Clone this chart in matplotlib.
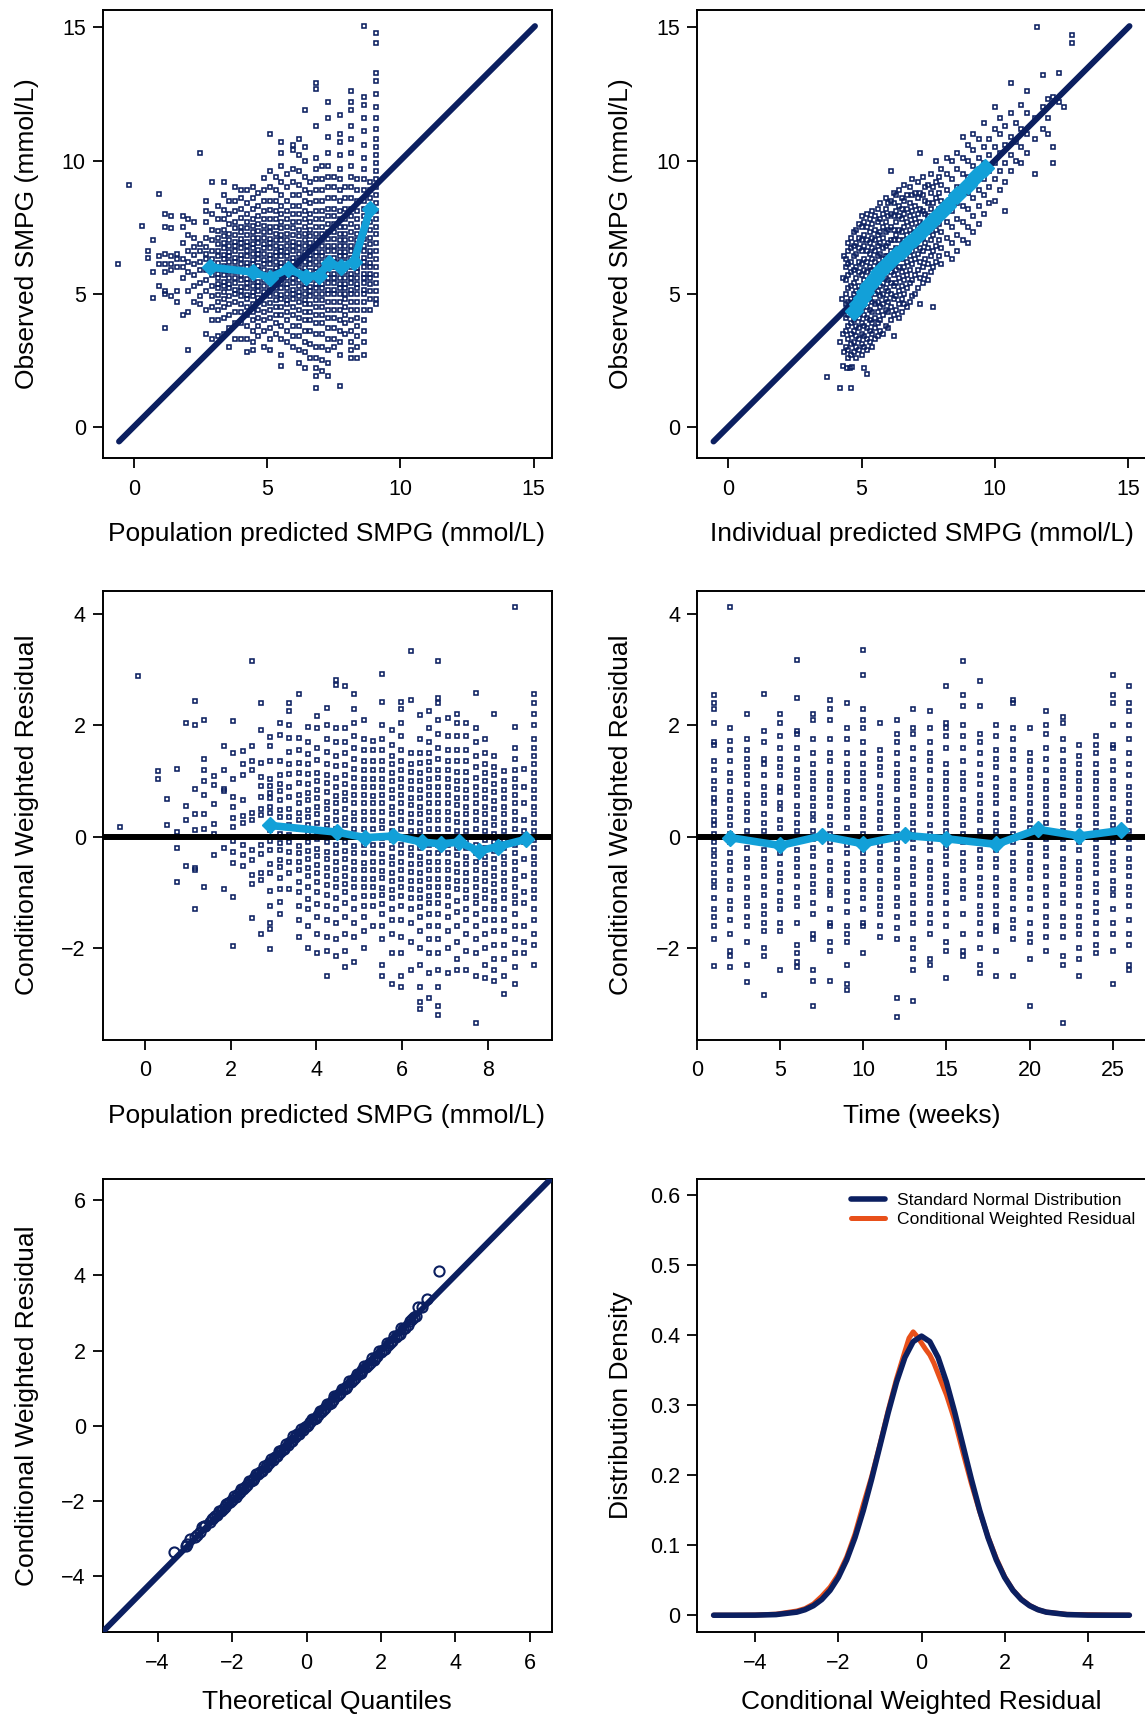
import numpy as np
import matplotlib
matplotlib.use('Agg')
import matplotlib.pyplot as plt
from matplotlib.ticker import FuncFormatter

plt.rcParams['font.family'] = ['Liberation Sans', 'DejaVu Sans']

navy = '#0b1f60'
light_blue = '#12a0d8'
orange = '#e8501a'

# population prediction columns (shared by obs-vs-pred and cwres-vs-pred)
pred_cols = [-0.57, -0.16, 0.3, 0.52, 0.74, 0.96, 1.17, 1.39, 1.61, 1.84, 2.05, 2.28, 2.5, 2.72, 2.93,
             3.15, 3.37, 3.59, 3.8, 4.02, 4.24, 4.46, 4.67, 4.89, 5.11, 5.33, 5.54, 5.76, 5.98, 6.2,
             6.41, 6.63, 6.85, 7.07, 7.28, 7.5, 7.72, 7.93, 8.15, 8.37, 8.64, 8.85, 9.08]

obs_by_pred = [
    [6.1], [9.1], [7.55], [6.6, 6.35], [7.0, 5.8, 4.85], [8.75, 6.4, 6.1, 5.3],
    [8.0, 7.5, 6.5, 6.1, 5.8, 5.1, 5.0, 3.7],
    [7.9, 7.45, 6.4, 6.1, 5.9, 4.9],
    [6.5, 6.3, 6.0, 5.1, 4.7],
    [7.9, 7.5, 6.9, 6.3, 6.0, 5.6, 4.2],
    [7.8, 7.2, 6.6, 6.2, 5.8, 5.1, 4.3, 2.9],
    [7.7, 7.1, 6.75, 6.45, 6.1, 5.7, 5.3, 4.7],
    [10.3, 6.85, 6.6, 6.2, 5.9, 5.4, 4.9, 4.6],
    [8.5, 8.1, 7.7, 7.1, 6.75, 6.5, 6.3, 5.9, 5.5, 5.1, 4.4, 3.5],
    [9.2, 8.0, 7.4, 7.0, 6.6, 6.3, 6.0, 5.7, 5.3, 4.9, 4.5, 4.0, 3.3],
    [8.3, 7.8, 7.35, 7.1, 6.85, 6.6, 6.4, 6.15, 6.0, 5.75, 5.6, 5.35, 5.2, 4.95, 4.7, 4.4, 4.0, 3.4],
    [9.2, 8.7, 8.15, 7.8, 7.4, 7.15, 6.9, 6.7, 6.45, 6.3, 6.05, 5.9, 5.7, 5.45, 5.3, 5.05, 4.8, 4.5, 4.1, 3.5],
    [8.5, 8.0, 7.6, 7.25, 7.0, 6.8, 6.55, 6.4, 6.2, 5.95, 5.8, 5.6, 5.35, 5.2, 4.9, 4.6, 4.2, 3.7, 3.0],
    [9.0, 8.5, 8.1, 7.7, 7.45, 7.2, 6.95, 6.8, 6.6, 6.35, 6.2, 5.95, 5.8, 5.6, 5.4, 5.15, 5.0, 4.7, 4.3, 3.9, 3.3],
    [8.9, 8.6, 8.2, 7.85, 7.5, 7.3, 7.05, 6.9, 6.7, 6.45, 6.3, 6.1, 5.85, 5.7, 5.5, 5.25, 5.1, 4.9, 4.6, 4.3, 3.9, 3.3],
    [8.9, 8.4, 8.0, 7.7, 7.45, 7.2, 6.95, 6.8, 6.6, 6.4, 6.15, 6.0, 5.8, 5.55, 5.4, 5.2, 4.95, 4.8, 4.5, 4.2, 3.8, 3.3, 2.8],
    [9.0, 8.6, 8.2, 7.8, 7.55, 7.3, 7.1, 6.85, 6.7, 6.5, 6.25, 6.1, 5.9, 5.65, 5.5, 5.3, 5.05, 4.9, 4.6, 4.3, 4.0, 3.6, 3.2, 2.9],
    [8.8, 8.3, 7.9, 7.6, 7.35, 7.1, 6.9, 6.65, 6.5, 6.3, 6.05, 5.9, 5.7, 5.45, 5.3, 5.1, 4.85, 4.7, 4.4, 4.1, 3.8, 3.4],
    [9.35, 8.9, 8.5, 8.1, 7.8, 7.55, 7.3, 7.1, 6.85, 6.7, 6.5, 6.25, 6.1, 5.9, 5.65, 5.5, 5.3, 5.05, 4.9, 4.6, 4.3, 4.0, 3.6, 3.0],
    [11.0, 9.6, 9.0, 8.5, 8.15, 7.8, 7.5, 7.3, 7.05, 6.9, 6.7, 6.45, 6.3, 6.1, 5.85, 5.7, 5.5, 5.25, 5.1, 4.9, 4.65, 4.4, 4.1, 3.7, 3.3, 2.9],
    [9.4, 8.9, 8.5, 8.1, 7.8, 7.5, 7.25, 7.0, 6.8, 6.55, 6.4, 6.2, 5.95, 5.8, 5.6, 5.35, 5.2, 5.0, 4.75, 4.5, 4.2, 3.9, 3.5],
    [10.7, 10.3, 9.8, 9.2, 8.7, 8.3, 8.0, 7.7, 7.45, 7.2, 7.0, 6.75, 6.6, 6.4, 6.15, 6.0, 5.8, 5.55, 5.4, 5.2, 4.95, 4.8, 4.5, 4.2, 3.8, 3.3, 2.7, 2.3],
    [9.5, 9.0, 8.5, 8.1, 7.8, 7.5, 7.25, 7.0, 6.8, 6.55, 6.4, 6.2, 5.95, 5.8, 5.6, 5.35, 5.2, 5.0, 4.75, 4.6, 4.3, 4.0, 3.6, 3.2],
    [10.6, 10.4, 9.7, 9.2, 8.7, 8.3, 8.0, 7.7, 7.45, 7.2, 6.95, 6.8, 6.6, 6.35, 6.2, 6.0, 5.75, 5.6, 5.4, 5.15, 5.0, 4.8, 4.5, 4.2, 3.8, 3.4, 3.0],
    [10.8, 10.2, 9.6, 9.1, 8.7, 8.3, 8.0, 7.7, 7.4, 7.15, 6.9, 6.7, 6.5, 6.25, 6.1, 5.9, 5.65, 5.5, 5.3, 5.05, 4.9, 4.7, 4.4, 4.1, 3.8, 3.4, 2.9, 2.4],
    [11.9, 10.5, 10.0, 9.4, 8.9, 8.5, 8.1, 7.8, 7.5, 7.25, 7.0, 6.8, 6.55, 6.4, 6.2, 5.95, 5.8, 5.6, 5.35, 5.2, 5.0, 4.75, 4.6, 4.3, 4.0, 3.6, 3.2, 2.8, 2.2],
    [9.2, 8.8, 8.4, 8.0, 7.7, 7.4, 7.15, 6.9, 6.7, 6.45, 6.3, 6.1, 5.85, 5.7, 5.5, 5.25, 5.1, 4.9, 4.6, 4.3, 4.0, 3.6, 3.1, 2.6],
    [12.9, 12.7, 11.3, 10.1, 9.7, 9.3, 8.9, 8.5, 8.1, 7.8, 7.5, 7.25, 7.0, 6.8, 6.55, 6.4, 6.2, 5.95, 5.8, 5.6,
     5.35, 5.2, 5.0, 4.75, 4.5, 4.2, 3.9, 3.5, 3.0, 2.6, 2.2, 1.9, 1.46],
    [9.8, 9.3, 8.9, 8.5, 8.1, 7.8, 7.5, 7.25, 7.0, 6.8, 6.55, 6.4, 6.2, 5.95, 5.8, 5.6, 5.35, 5.2, 5.0, 4.75, 4.5, 4.2, 3.9, 3.5, 3.0, 2.5, 2.1],
    [12.2, 11.6, 10.9, 10.3, 9.8, 9.4, 9.0, 8.6, 8.2, 7.9, 7.6, 7.3, 7.05, 6.8, 6.6, 6.35, 6.2, 6.0, 5.75, 5.6,
     5.4, 5.15, 5.0, 4.7, 4.4, 4.1, 3.7, 3.3, 2.9, 2.4, 1.9],
    [9.4, 9.0, 8.6, 8.2, 7.9, 7.6, 7.3, 7.05, 6.8, 6.6, 6.35, 6.2, 6.0, 5.75, 5.6, 5.4, 5.15, 5.0, 4.7, 4.4, 4.1, 3.7, 3.3, 3.0],
    [11.7, 11.0, 10.7, 10.2, 9.7, 9.3, 8.9, 8.5, 8.1, 7.8, 7.5, 7.25, 7.0, 6.8, 6.55, 6.4, 6.2, 5.95, 5.8, 5.6,
     5.35, 5.2, 5.0, 4.7, 4.4, 4.0, 3.6, 3.2, 2.7, 1.52],
    [9.0, 8.6, 8.2, 7.8, 7.5, 7.25, 7.0, 6.8, 6.55, 6.4, 6.2, 5.95, 5.8, 5.6, 5.35, 5.2, 5.0, 4.8, 4.5, 4.2, 3.9, 3.5],
    [12.6, 12.2, 11.9, 11.3, 10.8, 10.3, 9.8, 9.4, 9.0, 8.6, 8.2, 7.9, 7.6, 7.3, 7.05, 6.8, 6.6, 6.35, 6.2, 6.0,
     5.75, 5.6, 5.4, 5.15, 5.0, 4.7, 4.4, 4.0, 3.6, 3.2, 2.9, 2.6],
    [9.3, 8.9, 8.5, 8.1, 7.8, 7.5, 7.25, 7.0, 6.8, 6.55, 6.4, 6.2, 5.95, 5.8, 5.6, 5.35, 5.2, 5.0, 4.7, 4.4, 4.1, 3.8, 3.4, 3.0, 2.6],
    [15.05, 12.4, 12.1, 11.6, 11.1, 10.6, 10.1, 9.7, 9.3, 8.9, 8.5, 8.2, 7.9, 7.6, 7.3, 7.05, 6.8, 6.6, 6.35, 6.2,
     6.0, 5.75, 5.6, 5.4, 5.15, 5.0, 4.7, 4.4, 4.0, 3.6, 3.2, 2.7],
    [9.2, 8.9, 8.6, 8.3, 8.0, 7.7, 7.4, 7.1, 6.85, 6.6, 6.4, 6.15, 6.0, 5.75, 5.6, 5.35, 5.1, 4.8, 4.4],
    [14.8, 14.4, 13.3, 13.0, 12.5, 12.0, 11.6, 11.2, 10.8, 10.5, 10.2, 9.9, 9.6, 9.3, 9.0, 8.7, 8.4, 8.1, 7.8, 7.5,
     7.25, 6.9, 6.6, 6.3, 6.0, 5.7, 5.4, 5.1, 4.8, 4.6],
]

cwres_by_pred = [
    [0.17], [2.89], [1.18, 1.03], [0.68, 0.2], [1.22, 0.09, -0.21, -0.81], [2.05, 0.55, 0.3, -0.53],
    [2.44, 2.0, 0.86, 0.4, 0.11, -0.56, -0.6, -1.31],
    [2.09, 1.4, 1.2, 1.0, 0.75, 0.4, 0.14, -0.9],
    [1.09, 0.93, 0.59, 0.22, 0.05, -0.34],
    [1.63, 1.2, 0.85, 0.82, -0.2, -0.94],
    [2.07, 1.5, 1.04, 0.72, 0.53, 0.33, 0.17, -0.08, -0.28, -0.47, -1.08, -1.96],
    [1.54, 1.3, 1.1, 0.66, 0.37, 0.24, -0.15, -0.34, -0.53],
    [3.16, 1.63, 1.36, 1.19, 0.43, 0.3, -0.24, -0.42, -0.69, -0.86, -1.47],
    [2.4, 1.92, 1.33, 1.07, 0.91, 0.72, 0.5, 0.38, -0.15, -0.31, -0.65, -0.78, -1.76],
    [1.79, 1.62, 1.36, 1.04, 0.91, 0.78, 0.69, 0.53, 0.43, 0.11, -0.08, -0.24, -0.5, -0.66, -0.98, -1.24, -1.55, -1.66, -2.03],
    [2.05, 1.83, 1.36, 1.1, 0.95, 0.82, 0.66, 0.48, 0.35, 0.18, 0.05, -0.12, -0.25, -0.42, -0.55, -0.75, -0.95, -1.18, -1.4],
    [2.41, 2.26, 2.0, 1.78, 1.52, 1.3, 1.12, 0.9, 0.72, 0.5, 0.36, 0.2, 0.03, -0.1, -0.27, -0.45, -0.65, -0.95],
    [2.57, 1.78, 1.55, 1.33, 1.15, 0.97, 0.75, 0.6, 0.43, 0.3, 0.14, 0.0, -0.17, -0.3, -0.46, -0.6, -0.82, -1.0, -1.25, -1.5, -1.8],
    [1.97, 1.7, 1.48, 1.3, 1.12, 0.95, 0.78, 0.65, 0.48, 0.35, 0.2, 0.04, -0.1, -0.26, -0.4, -0.57, -0.7, -0.9, -1.12, -1.3, -1.6, -2.0],
    [2.17, 1.95, 1.6, 1.37, 1.15, 1.0, 0.83, 0.7, 0.53, 0.4, 0.25, 0.08, -0.05, -0.22, -0.35, -0.52, -0.65, -0.82, -1.0, -1.22, -1.45, -1.75, -2.1],
    [2.31, 2.0, 1.75, 1.52, 1.3, 1.1, 0.96, 0.8, 0.63, 0.5, 0.33, 0.2, 0.04, -0.1, -0.27, -0.4, -0.56, -0.7, -0.87, -1.05,
     -1.25, -1.5, -1.8, -2.05, -2.5],
    [2.82, 2.73, 1.95, 1.7, 1.45, 1.27, 1.05, 0.9, 0.73, 0.6, 0.44, 0.3, 0.13, 0.0, -0.16, -0.3, -0.46, -0.6, -0.77, -0.9,
     -1.1, -1.3, -1.55, -1.85, -2.15],
    [2.71, 1.95, 1.7, 1.5, 1.28, 1.1, 0.95, 0.78, 0.65, 0.5, 0.33, 0.2, 0.04, -0.1, -0.26, -0.4, -0.57, -0.7, -0.86, -1.0,
     -1.2, -1.45, -1.75, -2.05, -2.34],
    [2.57, 2.3, 2.05, 1.8, 1.6, 1.4, 1.22, 1.05, 0.9, 0.74, 0.6, 0.43, 0.3, 0.14, 0.0, -0.17, -0.3, -0.46, -0.6, -0.76,
     -0.9, -1.1, -1.3, -1.55, -1.8, -2.25],
    [2.1, 1.75, 1.55, 1.36, 1.2, 1.03, 0.9, 0.74, 0.6, 0.44, 0.3, 0.13, 0.0, -0.16, -0.3, -0.47, -0.6, -0.76, -0.9, -1.07,
     -1.25, -1.45, -1.7, -2.0],
    [1.72, 1.55, 1.35, 1.2, 1.03, 0.9, 0.73, 0.6, 0.44, 0.3, 0.13, 0.0, -0.16, -0.3, -0.46, -0.6, -0.77, -0.9, -1.06, -1.25, -1.6],
    [2.93, 2.42, 2.0, 1.75, 1.55, 1.36, 1.2, 1.04, 0.9, 0.74, 0.6, 0.45, 0.28, 0.15, -0.02, -0.15, -0.32, -0.45, -0.62, -0.75,
     -0.92, -1.05, -1.22, -1.4, -1.6, -1.85, -2.3, -2.5],
    [1.91, 1.65, 1.45, 1.3, 1.14, 1.0, 0.84, 0.7, 0.54, 0.4, 0.24, 0.1, -0.06, -0.2, -0.36, -0.5, -0.66, -0.8, -0.96, -1.1,
     -1.3, -1.5, -1.75, -2.1, -2.65],
    [2.42, 2.3, 2.05, 1.8, 1.55, 1.36, 1.2, 1.04, 0.9, 0.74, 0.6, 0.44, 0.3, 0.14, 0.0, -0.16, -0.3, -0.46, -0.6, -0.76,
     -0.9, -1.06, -1.25, -1.5, -1.8, -2.1, -2.5, -2.7],
    [3.34, 2.45, 1.5, 1.3, 1.16, 1.0, 0.86, 0.7, 0.56, 0.4, 0.26, 0.1, -0.04, -0.2, -0.34, -0.5, -0.64, -0.8, -0.94, -1.1,
     -1.3, -1.55, -1.9, -2.4],
    [2.18, 1.75, 1.5, 1.32, 1.15, 1.0, 0.84, 0.7, 0.54, 0.4, 0.24, 0.1, -0.06, -0.2, -0.36, -0.5, -0.66, -0.8, -0.96, -1.1,
     -1.26, -1.45, -1.7, -2.0, -2.3, -2.7, -2.97, -3.1],
    [2.25, 1.95, 1.7, 1.5, 1.34, 1.2, 1.04, 0.9, 0.74, 0.6, 0.44, 0.3, 0.14, 0.0, -0.16, -0.3, -0.46, -0.6, -0.76, -0.9,
     -1.06, -1.2, -1.4, -1.6, -1.85, -2.1, -2.45, -2.9],
    [3.16, 2.5, 2.4, 2.1, 1.85, 1.6, 1.4, 1.2, 1.05, 0.9, 0.74, 0.6, 0.45, 0.3, 0.14, 0.0, -0.16, -0.3, -0.45, -0.6,
     -0.76, -0.9, -1.05, -1.2, -1.4, -1.6, -1.85, -2.1, -2.4, -2.7, -3.05, -3.2],
    [2.13, 1.8, 1.55, 1.36, 1.2, 1.04, 0.9, 0.74, 0.6, 0.44, 0.3, 0.14, 0.0, -0.16, -0.3, -0.46, -0.6, -0.76, -0.9, -1.06,
     -1.25, -1.45, -1.7, -2.0, -2.45],
    [2.2, 2.05, 1.8, 1.55, 1.35, 1.16, 1.0, 0.86, 0.7, 0.56, 0.4, 0.26, 0.1, -0.04, -0.2, -0.34, -0.5, -0.64, -0.8, -0.94,
     -1.15, -1.35, -1.6, -1.9, -2.2, -2.4],
    [2.05, 1.8, 1.55, 1.35, 1.16, 1.0, 0.84, 0.7, 0.54, 0.4, 0.24, 0.1, -0.06, -0.2, -0.36, -0.5, -0.66, -0.8, -0.96, -1.1,
     -1.3, -1.5, -1.75, -2.05, -2.4],
    [2.58, 1.95, 1.7, 1.45, 1.25, 1.06, 0.9, 0.74, 0.6, 0.44, 0.3, 0.14, 0.0, -0.16, -0.3, -0.46, -0.6, -0.76, -0.9, -1.06,
     -1.2, -1.4, -1.6, -1.85, -2.1, -2.5, -3.35],
    [1.75, 1.5, 1.3, 1.15, 1.0, 0.84, 0.7, 0.54, 0.4, 0.24, 0.1, -0.06, -0.2, -0.36, -0.5, -0.66, -0.8, -0.96, -1.1, -1.3,
     -1.5, -1.75, -2.0, -2.3, -2.55],
    [2.2, 1.45, 1.25, 1.1, 0.94, 0.8, 0.64, 0.5, 0.34, 0.2, 0.04, -0.1, -0.26, -0.4, -0.56, -0.7, -0.86, -1.0, -1.16, -1.3,
     -1.5, -1.7, -1.95, -2.2, -2.4, -2.6],
    [1.18, 1.0, 0.84, 0.7, 0.54, 0.4, 0.24, 0.1, -0.06, -0.2, -0.36, -0.5, -0.66, -0.8, -0.96, -1.1, -1.3, -1.5, -1.7, -1.95,
     -2.2, -2.5, -2.83],
    [4.12, 1.97, 1.6, 1.4, 1.2, 1.04, 0.9, 0.74, 0.6, 0.44, 0.3, 0.14, 0.0, -0.16, -0.3, -0.46, -0.6, -0.76, -0.9, -1.06,
     -1.2, -1.4, -1.6, -1.85, -2.1, -2.35, -2.65],
    [1.22, 0.9, 0.6, 0.3, 0.1, -0.1, -0.4, -0.7, -1.0, -1.2, -1.6, -1.9, -2.1],
    [2.56, 2.4, 2.2, 2.0, 1.75, 1.6, 1.45, 1.3, 1.14, 1.0, 0.84, 0.7, 0.54, 0.4, 0.24, 0.1, -0.06, -0.2, -0.36, -0.5,
     -0.66, -0.8, -0.96, -1.1, -1.3, -1.5, -1.75, -1.95, -2.3],
]

# smoothed trend points
pred_trend_x = [2.87, 4.47, 5.12, 5.8, 6.46, 6.94, 7.31, 7.79, 8.26, 8.88]
pred_trend_obs = [6.0, 5.81, 5.6, 5.94, 5.64, 5.68, 6.14, 6.0, 6.2, 8.2]
pred_trend_cwres_x = [2.92, 4.48, 5.14, 5.8, 6.47, 6.91, 7.34, 7.79, 8.23, 8.89]
pred_trend_cwres = [0.2, 0.08, -0.02, 0.01, -0.1, -0.13, -0.1, -0.26, -0.18, -0.05]

# individual prediction vs observed cloud
ipred_x = ([3.7, 4.2, 4.62, 4.3, 4.45, 4.55, 4.65, 5.1, 5.2, 4.3, 4.2, 4.35, 4.5, 4.25, 4.3, 4.35]
           + [4.4] * 8 + [4.5] * 10 + [4.6] * 11 + [4.7] * 11 + [4.8] * 12 + [4.9] * 12 + [5.0] * 13
           + [5.1] * 12 + [5.2] * 13 + [5.3] * 12 + [5.4] * 13 + [5.5] * 12 + [5.6] * 12 + [5.7] * 12
           + [5.8] * 11 + [5.9] * 12 + [6.0] * 11 + [6.1] * 12 + [6.2] * 12 + [6.3] * 10 + [6.4] * 11
           + [6.5] * 10 + [6.6] * 10 + [6.7] * 9 + [6.8] * 9 + [6.9] * 9 + [7.0] * 8 + [7.1] * 8
           + [7.2] * 9 + [7.3] * 8 + [7.4] * 7 + [7.5] * 7 + [7.6] * 7 + [7.7] * 7 + [7.8] * 7 + [7.9] * 6
           + [8.0] * 7 + [8.2] * 7 + [8.4] * 7 + [8.6] * 7 + [8.8] * 7 + [9.0] * 7 + [9.2] * 7 + [9.4] * 6
           + [9.6] * 6 + [9.8] * 5 + [10.0] * 6 + [10.2] * 5 + [10.4] * 5 + [10.6] * 5 + [10.8] * 3
           + [11.0] * 4 + [11.2] * 4 + [11.5] * 3 + [11.6] + [11.8] * 3 + [12.0] * 3 + [12.2] * 3
           + [12.4] * 2 + [12.6] + [12.9] * 2)
ipred_obs = ([1.88, 1.45, 1.45, 2.3, 2.2, 2.2, 2.25, 2.2, 2.0, 3.5, 3.2, 2.8, 2.6, 4.8, 5.6, 6.4]
             + [3.0, 3.6, 4.1, 4.6, 5.0, 5.5, 6.0, 6.3]
             + [2.9, 3.3, 3.8, 4.2, 4.7, 5.2, 5.7, 6.1, 6.6, 6.9]
             + [2.7, 3.1, 3.5, 3.9, 4.3, 4.8, 5.3, 5.8, 6.2, 6.7, 7.1]
             + [2.8, 3.2, 3.6, 4.0, 4.5, 5.0, 5.4, 5.9, 6.4, 6.8, 7.3]
             + [2.6, 3.0, 3.4, 3.8, 4.2, 4.6, 5.1, 5.6, 6.0, 6.5, 6.9, 7.4]
             + [2.9, 3.3, 3.7, 4.1, 4.5, 4.9, 5.3, 5.8, 6.2, 6.7, 7.1, 7.6]
             + [2.7, 3.1, 3.5, 3.9, 4.4, 4.8, 5.2, 5.7, 6.1, 6.6, 7.0, 7.5, 7.9]
             + [3.0, 3.4, 3.8, 4.2, 4.6, 5.0, 5.5, 5.9, 6.3, 6.8, 7.2, 7.7]
             + [2.9, 3.3, 3.7, 4.1, 4.5, 4.9, 5.3, 5.8, 6.2, 6.6, 7.0, 7.5, 8.0]
             + [3.2, 3.6, 4.0, 4.4, 4.8, 5.2, 5.6, 6.0, 6.5, 6.9, 7.3, 7.8]
             + [3.0, 3.5, 3.9, 4.3, 4.7, 5.1, 5.5, 5.9, 6.3, 6.7, 7.1, 7.6, 8.1]
             + [3.3, 3.7, 4.1, 4.6, 5.0, 5.4, 5.8, 6.2, 6.6, 7.0, 7.4, 7.9]
             + [3.4, 3.9, 4.3, 4.7, 5.1, 5.6, 6.0, 6.4, 6.8, 7.2, 7.7, 8.2]
             + [3.6, 4.0, 4.5, 4.9, 5.3, 5.7, 6.1, 6.5, 6.9, 7.3, 7.8, 8.4]
             + [3.5, 4.2, 4.6, 5.0, 5.4, 5.9, 6.3, 6.7, 7.1, 7.5, 8.0]
             + [3.8, 4.4, 4.8, 5.2, 5.6, 6.0, 6.4, 6.8, 7.3, 7.7, 8.2, 8.6]
             + [3.7, 4.3, 4.7, 5.1, 5.5, 6.0, 6.4, 6.9, 7.4, 7.9, 8.4]
             + [4.0, 4.5, 5.0, 5.4, 5.8, 6.2, 6.6, 7.0, 7.5, 8.0, 8.5, 9.6]
             + [3.4, 4.2, 4.8, 5.3, 5.7, 6.1, 6.5, 7.0, 7.4, 7.9, 8.4, 8.8]
             + [4.4, 4.9, 5.4, 5.9, 6.3, 6.7, 7.2, 7.7, 8.1, 8.7]
             + [4.1, 4.6, 5.1, 5.6, 6.0, 6.5, 7.0, 7.4, 7.9, 8.3, 8.9]
             + [4.3, 4.8, 5.3, 5.8, 6.3, 6.8, 7.3, 7.8, 8.2, 8.6]
             + [4.6, 5.0, 5.5, 6.0, 6.5, 7.0, 7.5, 8.0, 8.5, 9.1]
             + [4.5, 5.2, 5.7, 6.2, 6.7, 7.2, 7.7, 8.2, 8.7]
             + [4.7, 5.4, 5.9, 6.4, 6.9, 7.4, 7.9, 8.4, 9.0]
             + [4.9, 5.5, 6.1, 6.6, 7.1, 7.6, 8.1, 8.7, 9.3]
             + [5.0, 5.7, 6.3, 6.8, 7.3, 7.8, 8.3, 8.8]
             + [5.2, 5.9, 6.5, 7.0, 7.5, 8.0, 8.6, 9.2]
             + [4.6, 5.6, 6.2, 6.7, 7.2, 7.7, 8.2, 8.8, 10.3]
             + [5.4, 6.0, 6.6, 7.1, 7.6, 8.1, 8.7, 9.4]
             + [5.7, 6.3, 6.9, 7.5, 8.0, 8.5, 9.0]
             + [5.5, 6.1, 6.7, 7.3, 7.9, 8.4, 9.1]
             + [5.8, 6.4, 7.0, 7.6, 8.2, 8.8, 9.5]
             + [4.5, 6.0, 6.6, 7.2, 7.8, 8.4, 9.0]
             + [6.2, 6.8, 7.4, 8.0, 8.6, 9.2, 10.0]
             + [6.4, 7.0, 7.6, 8.2, 8.8, 9.4]
             + [6.1, 6.7, 7.3, 7.9, 8.5, 9.1, 9.7]
             + [6.5, 7.1, 7.7, 8.3, 8.9, 9.5, 10.1]
             + [6.3, 6.9, 7.5, 8.1, 8.7, 9.3, 10.0]
             + [6.6, 7.2, 7.8, 8.4, 9.0, 9.7, 10.3]
             + [7.0, 7.7, 8.3, 8.9, 9.5, 10.1, 10.9]
             + [6.9, 7.5, 8.2, 8.8, 9.4, 10.0, 10.6]
             + [7.3, 7.9, 8.6, 9.2, 9.8, 10.4, 11.0]
             + [7.6, 8.3, 8.9, 9.5, 10.1, 10.8]
             + [8.0, 8.7, 9.3, 9.9, 10.5, 11.4]
             + [8.4, 9.0, 9.6, 10.2, 10.8]
             + [8.5, 9.3, 9.9, 10.5, 11.2, 12.0]
             + [8.9, 9.6, 10.3, 11.0, 11.6]
             + [8.1, 9.2, 9.9, 10.6, 11.3]
             + [9.6, 10.2, 10.9, 11.8, 12.9]
             + [10.0, 10.7, 11.4]
             + [9.9, 10.5, 11.2, 12.1]
             + [10.3, 11.0, 11.8, 12.6]
             + [9.5, 10.8, 11.6]
             + [15.0]
             + [11.2, 12.0, 13.2]
             + [11.0, 11.6, 12.3]
             + [9.9, 10.5, 12.4]
             + [13.3, 12.2]
             + [12.0]
             + [14.4, 14.7])
ipred_trend_x = [4.72, 4.85, 5.0, 5.12, 5.25, 5.38, 5.5, 5.65, 5.8, 5.95, 6.1, 6.3, 6.5, 6.75, 7.0, 7.3, 7.6,
                 7.87, 8.2, 8.6, 9.0, 9.35, 9.64]
ipred_trend_obs = [4.35, 4.6, 4.85, 5.05, 5.3, 5.45, 5.6, 5.8, 5.95, 6.1, 6.25, 6.45, 6.6, 6.85, 7.1, 7.4, 7.7,
                   7.96, 8.3, 8.7, 9.1, 9.45, 9.73]

identity_range = [-0.55, 15.05]

# residuals by week
weeks = list(range(1, 27))
cwres_by_week = [
    [2.55, 2.4, 2.3, 2.05, 1.7, 1.65, 1.35, 1.2, 1.0, 0.85, 0.7, 0.6, 0.45, 0.3, 0.2, 0.05, -0.1, -0.25, -0.35, -0.5, -0.65, -0.8, -0.9, -1.1, -1.3, -1.45, -1.6, -1.85, -2.33],
    [4.13, 1.95, 1.72, 1.55, 1.35, 1.15, 1.0, 0.8, 0.65, 0.5, 0.35, 0.2, 0.05, -0.1, -0.3, -0.45, -0.6, -0.8, -0.95, -1.15, -1.3, -1.5, -1.75, -2.05, -2.15, -2.35],
    [2.2, 1.75, 1.55, 1.4, 1.25, 1.1, 0.95, 0.75, 0.6, 0.45, 0.3, 0.1, -0.05, -0.2, -0.4, -0.55, -0.75, -0.9, -1.1, -1.25, -1.45, -1.6, -1.9, -2.3, -2.62],
    [2.57, 1.9, 1.7, 1.4, 1.3, 1.1, 0.9, 0.75, 0.6, 0.4, 0.25, 0.1, -0.05, -0.25, -0.4, -0.55, -0.7, -0.9, -1.05, -1.25, -1.4, -1.55, -1.7, -2.0, -2.15, -2.85],
    [2.2, 2.05, 1.8, 1.6, 1.4, 1.25, 1.1, 0.9, 0.8, 0.6, 0.5, 0.3, 0.15, 0.0, -0.15, -0.3, -0.5, -0.65, -0.8, -1.0, -1.15, -1.3, -1.55, -1.7, -2.4],
    [3.17, 2.5, 1.9, 1.85, 1.6, 1.4, 1.2, 1.05, 0.9, 0.75, 0.55, 0.4, 0.25, 0.1, -0.05, -0.25, -0.4, -0.55, -0.7, -0.9, -1.1, -1.25, -1.55, -1.95, -2.1, -2.25, -2.35],
    [2.2, 2.1, 1.75, 1.5, 1.3, 1.15, 1.0, 0.85, 0.7, 0.55, 0.4, 0.3, 0.1, -0.05, -0.2, -0.35, -0.55, -0.7, -0.85, -1.0, -1.2, -1.4, -1.75, -1.85, -2.4, -2.6, -3.05],
    [2.45, 2.3, 2.1, 1.75, 1.5, 1.35, 1.15, 1.0, 0.85, 0.7, 0.55, 0.35, 0.2, 0.05, -0.1, -0.25, -0.45, -0.6, -0.8, -0.95, -1.05, -1.3, -1.55, -1.6, -1.9, -2.05, -2.6],
    [2.4, 1.95, 1.75, 1.5, 1.3, 1.15, 1.0, 0.8, 0.65, 0.5, 0.35, 0.15, 0.0, -0.15, -0.3, -0.5, -0.65, -0.8, -1.0, -1.15, -1.35, -1.6, -1.75, -1.9, -2.3, -2.65, -2.75],
    [3.35, 2.9, 2.3, 2.1, 1.95, 1.7, 1.5, 1.3, 1.15, 1.0, 0.85, 0.7, 0.5, 0.35, 0.2, 0.05, -0.1, -0.3, -0.45, -0.6, -0.8, -0.95, -1.1, -1.3, -1.55, -1.6, -2.1],
    [2.05, 1.55, 1.4, 1.25, 1.1, 0.9, 0.75, 0.6, 0.45, 0.3, 0.15, 0.0, -0.15, -0.3, -0.45, -0.6, -0.8, -0.95, -1.1, -1.25, -1.4, -1.6, -1.8],
    [2.1, 1.85, 1.7, 1.5, 1.3, 1.15, 1.0, 0.85, 0.65, 0.5, 0.35, 0.2, 0.05, -0.1, -0.25, -0.4, -0.6, -0.75, -0.9, -1.1, -1.25, -1.45, -1.65, -1.85, -2.9, -3.25],
    [2.3, 1.95, 1.85, 1.6, 1.4, 1.2, 1.05, 0.9, 0.75, 0.55, 0.4, 0.25, 0.1, -0.05, -0.2, -0.4, -0.55, -0.7, -0.85, -1.05, -1.2, -1.4, -1.55, -1.85, -2.0, -2.2, -2.4, -2.95],
    [2.25, 1.95, 1.7, 1.5, 1.35, 1.2, 1.0, 0.85, 0.7, 0.55, 0.4, 0.2, 0.05, -0.1, -0.25, -0.45, -0.6, -0.75, -0.9, -1.05, -1.2, -1.4, -1.55, -1.75, -2.2, -2.3],
    [2.7, 2.05, 1.95, 1.8, 1.6, 1.3, 1.15, 1.0, 0.85, 0.7, 0.55, 0.4, 0.25, 0.1, -0.05, -0.2, -0.35, -0.5, -0.7, -0.85, -1.0, -1.2, -1.4, -1.6, -1.9, -2.05, -2.55],
    [3.15, 2.55, 2.35, 2.0, 1.8, 1.6, 1.35, 1.15, 1.0, 0.85, 0.65, 0.5, 0.35, 0.2, 0.05, -0.1, -0.3, -0.45, -0.6, -0.8, -0.95, -1.1, -1.4, -1.75, -2.05, -2.15],
    [2.8, 2.35, 1.85, 1.7, 1.5, 1.3, 1.1, 0.95, 0.75, 0.6, 0.45, 0.3, 0.1, -0.05, -0.25, -0.4, -0.55, -0.75, -0.9, -1.05, -1.25, -1.4, -1.55, -1.75, -2.0, -2.3, -2.45],
    [2.0, 1.8, 1.55, 1.4, 1.25, 1.05, 0.9, 0.75, 0.6, 0.4, 0.25, 0.1, -0.05, -0.25, -0.4, -0.55, -0.75, -0.9, -1.05, -1.25, -1.4, -1.6, -1.7, -2.05, -2.5],
    [2.45, 2.4, 1.95, 1.75, 1.55, 1.4, 1.2, 1.0, 0.85, 0.7, 0.5, 0.35, 0.2, 0.05, -0.1, -0.3, -0.45, -0.6, -0.8, -0.95, -1.1, -1.3, -1.5, -1.65, -1.85, -2.5],
    [1.95, 1.5, 1.35, 1.2, 1.05, 0.9, 0.75, 0.6, 0.45, 0.3, 0.15, 0.0, -0.15, -0.3, -0.45, -0.6, -0.75, -0.95, -1.1, -1.3, -1.55, -1.75, -1.9, -2.2, -3.05],
    [2.25, 2.0, 1.85, 1.6, 1.4, 1.2, 1.0, 0.85, 0.7, 0.55, 0.4, 0.25, 0.1, -0.05, -0.2, -0.35, -0.55, -0.7, -0.9, -1.05, -1.25, -1.45, -1.6, -1.8, -2.05],
    [2.15, 2.05, 1.75, 1.55, 1.35, 1.2, 1.05, 0.9, 0.75, 0.55, 0.4, 0.25, 0.1, -0.05, -0.2, -0.4, -0.55, -0.7, -0.85, -1.05, -1.2, -1.45, -1.6, -1.8, -2.15, -2.3, -3.36],
    [1.65, 1.45, 1.3, 1.15, 1.0, 0.85, 0.7, 0.55, 0.35, 0.2, 0.05, -0.1, -0.25, -0.45, -0.6, -0.75, -0.9, -1.05, -1.25, -1.45, -1.6, -1.75, -2.0, -2.2, -2.5],
    [1.8, 1.65, 1.5, 1.3, 1.15, 1.0, 0.85, 0.7, 0.55, 0.4, 0.25, 0.1, -0.05, -0.2, -0.35, -0.5, -0.65, -0.85, -1.0, -1.2, -1.35, -1.55, -1.75, -1.95, -2.1],
    [2.9, 2.55, 2.4, 2.0, 1.65, 1.6, 1.35, 1.2, 1.0, 0.85, 0.7, 0.5, 0.35, 0.2, 0.05, -0.1, -0.3, -0.45, -0.6, -0.8, -0.95, -1.05, -1.3, -1.55, -1.75, -2.05, -2.65],
    [2.7, 2.4, 2.25, 2.0, 1.75, 1.5, 1.3, 1.1, 0.9, 0.75, 0.6, 0.45, 0.3, 0.1, -0.05, -0.2, -0.4, -0.55, -0.7, -0.9, -1.05, -1.25, -1.5, -1.75, -1.95, -2.3, -2.4],
]
week_trend_x = [2.0, 5.0, 7.5, 10.0, 12.5, 15.0, 18.0, 20.5, 23.0, 25.5]
week_trend_cwres = [-0.02, -0.16, 0.01, -0.13, 0.02, -0.04, -0.14, 0.13, 0.01, 0.11]

# QQ plot of residuals
qq_theo = [-3.56, -3.25, -3.2, -3.12, -3.0, -2.93, -2.87, -2.8, -2.76, -2.72,
           -2.6, -2.5, -2.4, -2.3, -2.2, -2.1, -2.0, -1.9, -1.8, -1.7, -1.6, -1.5, -1.4, -1.3, -1.2, -1.1,
           -1.0, -0.9, -0.8, -0.7, -0.6, -0.5, -0.4, -0.3, -0.2, -0.1, 0.0, 0.1, 0.2, 0.3, 0.4, 0.5, 0.6,
           0.7, 0.8, 0.9, 1.0, 1.1, 1.2, 1.3, 1.4, 1.5, 1.6, 1.7, 1.8, 1.9, 2.0, 2.1, 2.2, 2.3, 2.4, 2.5,
           2.6, 2.65, 2.72, 2.78, 2.83, 2.88, 2.95, 3.0, 3.11, 3.24, 3.565]
qq_cwres = [-3.36, -3.19, -3.14, -3.02, -2.95, -2.9, -2.83, -2.7, -2.65, -2.66,
            -2.56, -2.45, -2.36, -2.27, -2.16, -2.06, -1.97, -1.88, -1.77, -1.68, -1.58, -1.48, -1.38, -1.29, -1.19, -1.09,
            -0.99, -0.9, -0.8, -0.7, -0.61, -0.51, -0.41, -0.31, -0.21, -0.11, -0.01, 0.09, 0.18, 0.28, 0.38, 0.48, 0.58,
            0.68, 0.78, 0.87, 0.97, 1.07, 1.17, 1.27, 1.37, 1.47, 1.56, 1.66, 1.76, 1.86, 1.95, 2.05, 2.15, 2.25, 2.35, 2.45,
            2.56, 2.6, 2.68, 2.78, 2.85, 2.9, 2.92, 3.15, 3.17, 3.36, 4.12]
qq_theo_mid = [-2.55, -2.45, -2.35, -2.25, -2.15, -2.05, -1.95, -1.85, -1.75, -1.65, -1.55, -1.45, -1.35,
               -1.25, -1.15, -1.05, -0.95, -0.85, -0.75, -0.65, -0.55, -0.45, -0.35, -0.25, -0.15, -0.05,
               0.05, 0.15, 0.25, 0.35, 0.45, 0.55, 0.65, 0.75, 0.85, 0.95, 1.05, 1.15, 1.25, 1.35, 1.45,
               1.55, 1.65, 1.75, 1.85, 1.95, 2.05, 2.15, 2.25, 2.35, 2.45, 2.55]
qq_cwres_mid = [-2.47, -2.41, -2.27, -2.22, -2.07, -2.02, -1.87, -1.82, -1.67, -1.63, -1.47, -1.43, -1.27,
                -1.23, -1.07, -1.03, -0.87, -0.83, -0.68, -0.63, -0.48, -0.43, -0.28, -0.23, -0.08, -0.03,
                0.01, 0.19, 0.21, 0.39, 0.41, 0.59, 0.61, 0.79, 0.81, 0.99, 1.01, 1.19, 1.21, 1.39, 1.41,
                1.59, 1.61, 1.79, 1.81, 1.99, 2.01, 2.19, 2.21, 2.39, 2.41, 2.59]

# density curves
norm_x = [-5.0, -4.5, -4.0, -3.5, -3.0, -2.8, -2.6, -2.4, -2.2, -2.0, -1.8, -1.6, -1.4, -1.2, -1.0, -0.8, -0.6,
          -0.4, -0.2, 0.0, 0.2, 0.4, 0.6, 0.8, 1.0, 1.2, 1.4, 1.6, 1.8, 2.0, 2.2, 2.4, 2.6, 2.8, 3.0, 3.5, 4.0,
          4.5, 5.0]
norm_density = [0.0, 0.00002, 0.0001, 0.0009, 0.0044, 0.0079, 0.0136, 0.0224, 0.0355, 0.054, 0.079, 0.1109,
                0.1497, 0.1942, 0.242, 0.2897, 0.3332, 0.3683, 0.391, 0.3989, 0.391, 0.3683, 0.3332, 0.2897,
                0.242, 0.1942, 0.1497, 0.1109, 0.079, 0.054, 0.0355, 0.0224, 0.0136, 0.0079, 0.0044, 0.0009,
                0.0001, 0.00002, 0.0]
kde_x = [-5.0, -4.5, -4.0, -3.5, -3.0, -2.8, -2.6, -2.4, -2.2, -2.0, -1.8, -1.6, -1.4, -1.2, -1.0, -0.8, -0.6,
         -0.4, -0.3, -0.2, -0.1, 0.0, 0.1, 0.2, 0.3, 0.4, 0.6, 0.8, 1.0, 1.2, 1.4, 1.6, 1.8, 2.0, 2.2, 2.4, 2.6,
         2.8, 3.0, 3.5, 4.0, 4.5, 5.0]
kde_density = [0.0, 0.0, 0.0003, 0.0015, 0.006, 0.0095, 0.016, 0.027, 0.04, 0.058, 0.083, 0.116, 0.158, 0.198,
               0.244, 0.293, 0.338, 0.377, 0.396, 0.405, 0.398, 0.389, 0.38, 0.372, 0.36, 0.345, 0.315, 0.278,
               0.232, 0.188, 0.148, 0.112, 0.081, 0.055, 0.036, 0.023, 0.014, 0.008, 0.0045, 0.0012, 0.0008,
               0.0003, 0.0]


def columns(xs, groups):
    x = np.concatenate([np.full(len(g), c) for c, g in zip(xs, groups)])
    y = np.concatenate([np.array(g, dtype=float) for g in groups])
    return x, y


def fmt(v, p):
    return '%g' % v if v >= 0 else '\u2212%g' % -v


def style(ax, xlim, ylim, xticks, yticks, xlabel, ylabel, xlab_y=-0.1425):
    ax.set_xlim(xlim)
    ax.set_ylim(ylim)
    ax.set_xticks(xticks)
    ax.set_yticks(yticks)
    ax.xaxis.set_major_formatter(FuncFormatter(fmt))
    ax.yaxis.set_major_formatter(FuncFormatter(fmt))
    ax.tick_params(direction='out', length=7, width=1.3, labelsize=15.5, colors='black')
    ax.tick_params(axis='x', pad=8)
    ax.tick_params(axis='y', pad=5)
    for s in ax.spines.values():
        s.set_linewidth(1.4)
    ax.set_xlabel(xlabel, fontsize=19)
    ax.set_ylabel(ylabel, fontsize=19)
    ax.xaxis.set_label_coords(0.5, xlab_y)
    ax.yaxis.set_label_coords(-0.142, 0.5)


def scatter(ax, x, y):
    ax.plot(x, y, 's', ms=3.3, mfc='none', mec=navy, mew=1.15, zorder=2)


def trend(ax, x, y, lw=5.5, ms=8):
    ax.plot(x, y, '-D', color=light_blue, lw=lw, ms=ms, mec=light_blue, zorder=4)


fig = plt.figure(figsize=(11.45, 17.14), dpi=100)
W, H = 1145.0, 1714.0
left_cols = [102.5 / W, 697 / W]
aw = 449.0 / W
rows = [(9.6, 458.0), (590.7, 1039.6), (1178.6, 1632.0)]


def make_ax(col, row):
    top, bottom = rows[row]
    return fig.add_axes([left_cols[col], 1 - bottom / H, aw, (bottom - top) / H])


# observed vs population predicted
ax1 = make_ax(0, 0)
px, py = columns(pred_cols, obs_by_pred)
scatter(ax1, px, py)
ax1.plot(identity_range, identity_range, color=navy, lw=4.3, solid_capstyle='round', zorder=3)
trend(ax1, pred_trend_x, pred_trend_obs)
style(ax1, (-1.17, 15.67), (-1.17, 15.67), [0, 5, 10, 15], [0, 5, 10, 15],
      'Population predicted SMPG (mmol/L)', 'Observed SMPG (mmol/L)')

# observed vs individual predicted
ax2 = make_ax(1, 0)
scatter(ax2, ipred_x, ipred_obs)
ax2.plot(identity_range, identity_range, color=navy, lw=4.3, solid_capstyle='round', zorder=3)
trend(ax2, ipred_trend_x, ipred_trend_obs, lw=8, ms=9)
style(ax2, (-1.17, 15.67), (-1.17, 15.67), [0, 5, 10, 15], [0, 5, 10, 15],
      'Individual predicted SMPG (mmol/L)', 'Observed SMPG (mmol/L)')

# cwres vs population predicted
ax3 = make_ax(0, 1)
cx, cy = columns(pred_cols, cwres_by_pred)
scatter(ax3, cx, cy)
ax3.axhline(0, color='black', lw=4.3, zorder=3)
trend(ax3, pred_trend_cwres_x, pred_trend_cwres)
style(ax3, (-0.99, 9.49), (-3.65, 4.42), [0, 2, 4, 6, 8], [-2, 0, 2, 4],
      'Population predicted SMPG (mmol/L)', 'Conditional Weighted Residual')

# cwres vs time
ax4 = make_ax(1, 1)
wx, wy = columns(weeks, cwres_by_week)
scatter(ax4, wx, wy)
ax4.axhline(0, color='black', lw=4.3, zorder=3)
trend(ax4, week_trend_x, week_trend_cwres)
style(ax4, (0, 27), (-3.65, 4.42), [0, 5, 10, 15, 20, 25], [-2, 0, 2, 4],
      'Time (weeks)', 'Conditional Weighted Residual')

# QQ plot
ax5 = make_ax(0, 2)
ax5.plot(qq_theo, qq_cwres, 'o', ms=7.3, mfc='none', mec=navy, mew=1.5, zorder=2)
ax5.plot(qq_theo_mid, qq_cwres_mid, 'o', ms=7.3, mfc='none', mec=navy, mew=1.5, zorder=2)
ax5.axline((0, 0), slope=1, color=navy, lw=4.3, zorder=3)
style(ax5, (-5.48, 6.58), (-5.48, 6.57), [-4, -2, 0, 2, 4, 6], [-4, -2, 0, 2, 4, 6],
      'Theoretical Quantiles', 'Conditional Weighted Residual', xlab_y=-0.128)

# density
ax6 = make_ax(1, 2)
ax6.plot(kde_x, kde_density, color=orange, lw=3.6, solid_capstyle='round', label='Conditional Weighted Residual', zorder=2)
ax6.plot(norm_x, norm_density, color=navy, lw=4.0, solid_capstyle='round', label='Standard Normal Distribution', zorder=3)
style(ax6, (-5.4, 5.4), (-0.024, 0.624), [-4, -2, 0, 2, 4], [0, 0.1, 0.2, 0.3, 0.4, 0.5, 0.6],
      'Conditional Weighted Residual', 'Distribution Density', xlab_y=-0.128)
h, l = ax6.get_legend_handles_labels()
ax6.legend(h[::-1], l[::-1], loc='upper left', bbox_to_anchor=(0.343, 0.969), frameon=False,
           fontsize=12.6, handlelength=1.95, handletextpad=0.7, labelspacing=0.24,
           borderpad=0, borderaxespad=0)

fig.savefig('out.png', dpi=100)
